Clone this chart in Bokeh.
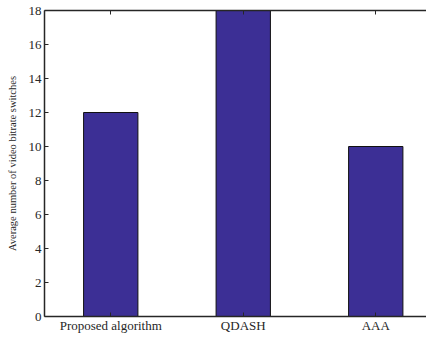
from bokeh.plotting import figure
from bokeh.models import Range1d, FixedTicker, LinearAxis
from bokeh.embed import file_html
from bokeh.resources import INLINE

categories = ["Proposed algorithm", "QDASH", "AAA"]
switches = [12, 18, 10]
y_ticks = [0, 2, 4, 6, 8, 10, 12, 14, 16, 18]

xs = list(range(1, len(categories) + 1))
FONT = "Liberation Serif"
AX = "#262626"

p = figure(width=426, height=335, output_backend="svg", toolbar_location=None,
           x_range=Range1d(0.5, 3.383), y_range=Range1d(0, 18),
           min_border_left=44, min_border_right=0, min_border_top=10, min_border_bottom=12)
p.vbar(x=xs, top=switches, width=0.41, fill_color="#3c2f95", line_color="#111111", line_width=1)

p.grid.visible = False
p.outline_line_color = None

p.xaxis.ticker = FixedTicker(ticks=xs)
p.xaxis.major_label_overrides = {x: c for x, c in zip(xs, categories)}
p.yaxis.ticker = FixedTicker(ticks=y_ticks)
p.yaxis.axis_label = "Average number of video bitrate switches"

for ax in (p.xaxis[0], p.yaxis[0]):
    ax.axis_line_color = AX
    ax.axis_line_width = 1.5
    ax.major_tick_in = 4
    ax.major_tick_out = 0
    ax.minor_tick_line_color = None
    ax.major_tick_line_color = AX
    ax.major_label_text_font = FONT
    ax.major_label_text_font_size = "13px"
    ax.major_label_text_color = AX
    ax.axis_label_text_font = FONT
    ax.axis_label_text_font_size = "10.5px"
    ax.axis_label_text_font_style = "normal"
    ax.axis_label_text_color = AX

p.xaxis.major_label_standoff = 1
p.yaxis.major_label_standoff = 3
p.yaxis.axis_label_standoff = 8

top = LinearAxis(ticker=FixedTicker(ticks=xs),
                 major_label_overrides={x: "" for x in xs},
                 major_tick_in=4, major_tick_out=0, minor_tick_line_color=None,
                 axis_line_color=AX, axis_line_width=1.5, major_tick_line_color=AX,
                 major_label_standoff=0)
p.add_layout(top, "above")

open("out.html", "w").write(file_html(p, INLINE))
